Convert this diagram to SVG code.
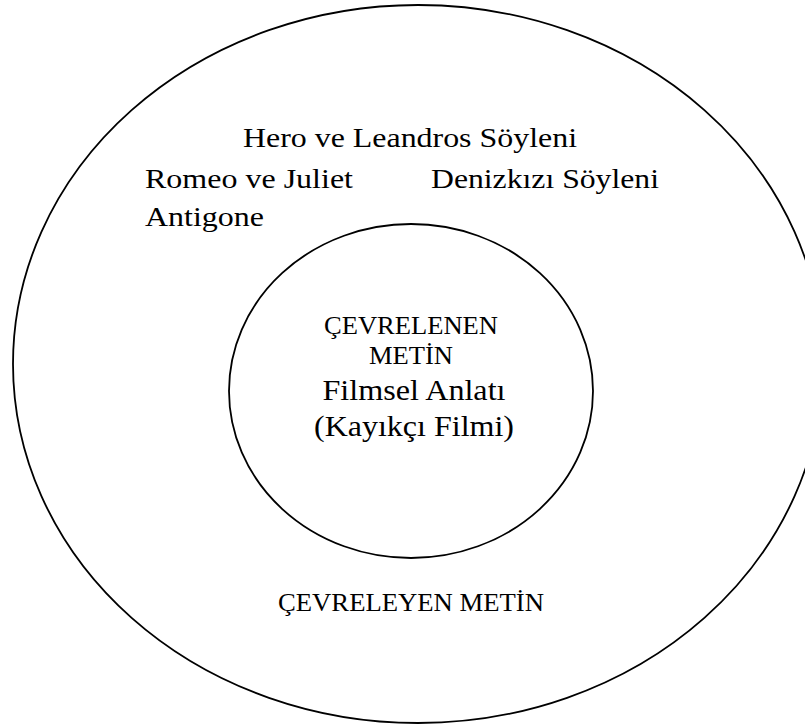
<svg xmlns="http://www.w3.org/2000/svg" width="805" height="725" viewBox="0 0 805 725">
<style>
.ring{fill:none;stroke:#000;stroke-width:1.8}
.t{font-family:"Liberation Serif","Times New Roman",serif;fill:#000}
.big{font-size:28px}
.mid{font-size:28.5px}
.cap{font-size:25px}
</style>
<rect width="805" height="725" fill="#fff"/>
<g id="outer">
<ellipse class="ring" cx="418" cy="364" rx="405" ry="359"/>
<text class="t big" x="243" y="147" textLength="334" lengthAdjust="spacingAndGlyphs">Hero ve Leandros Söyleni</text>
<text class="t big" x="145" y="188" textLength="208" lengthAdjust="spacingAndGlyphs">Romeo ve Juliet</text>
<text class="t big" x="431" y="188" textLength="228" lengthAdjust="spacingAndGlyphs">Denizkızı Söyleni</text>
<text class="t big" x="145" y="226" textLength="119" lengthAdjust="spacingAndGlyphs">Antigone</text>
<text class="t cap" x="411" y="611" text-anchor="middle" textLength="266" lengthAdjust="spacingAndGlyphs">ÇEVRELEYEN METİN</text>
</g>
<g id="inner">
<ellipse class="ring" cx="411" cy="391" rx="182" ry="167"/>
<text class="t cap" x="411" y="334" text-anchor="middle" textLength="174" lengthAdjust="spacingAndGlyphs">ÇEVRELENEN</text>
<text class="t cap" x="411" y="364" text-anchor="middle" textLength="84" lengthAdjust="spacingAndGlyphs">METİN</text>
<text class="t mid" x="414" y="400" text-anchor="middle" textLength="183" lengthAdjust="spacingAndGlyphs">Filmsel Anlatı</text>
<text class="t mid" x="414" y="436" text-anchor="middle" textLength="200" lengthAdjust="spacingAndGlyphs">(Kayıkçı Filmi)</text>
</g>
</svg>
